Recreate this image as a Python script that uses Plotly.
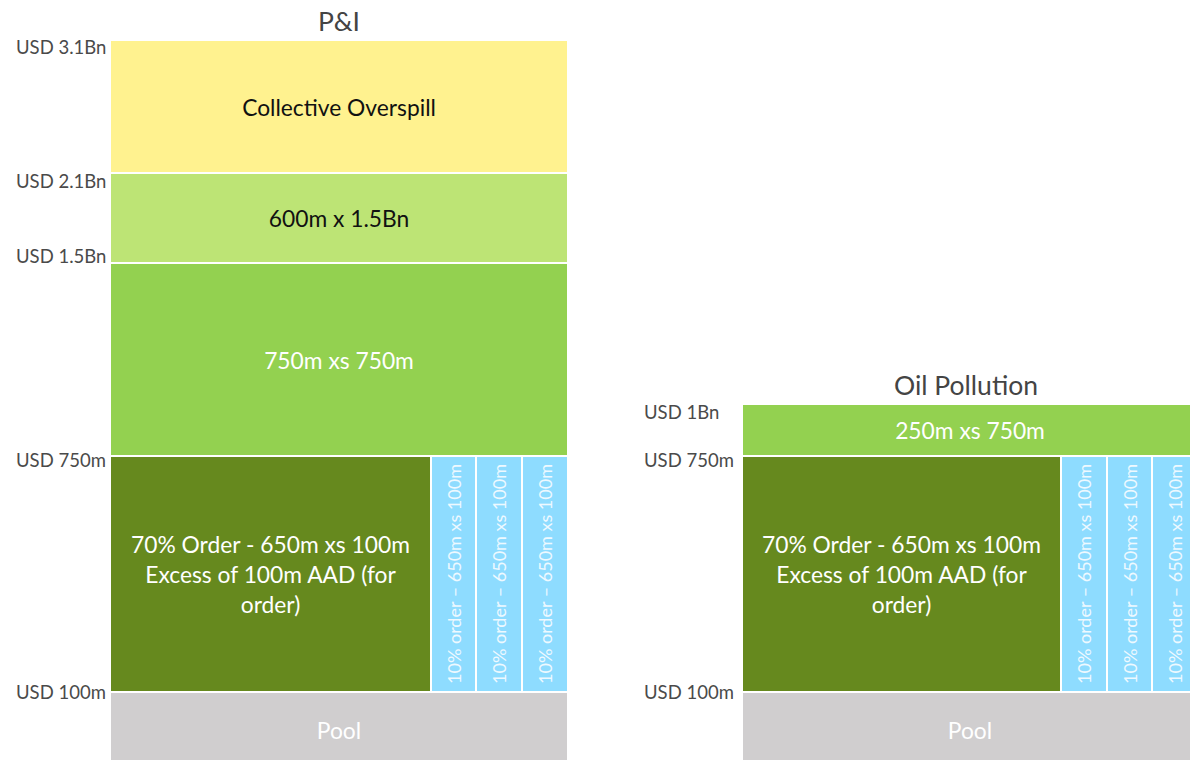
import plotly.graph_objects as go

# ---------------- data ----------------
# layer boundaries are in USD millions
pi_layers = ["Collective Overspill", "600m x 1.5Bn", "750m xs 750m", "Pool"]
pi_low = [2100, 1500, 750, 0]
pi_high = [3100, 2100, 1500, 100]

oil_layers = ["250m xs 750m", "Pool"]
oil_low = [750, 0]
oil_high = [1000, 100]

order_labels = ["70% Order - 650m xs 100m<br>Excess of 100m AAD (for<br>order)",
                "10% order – 650m xs 100m", "10% order – 650m xs 100m",
                "10% order – 650m xs 100m"]
order_shares = [0.7, 0.1, 0.1, 0.1]
order_low = 100
order_high = 750

pi_ticks = [3100, 2100, 1500, 750, 100]
pi_tick_text = ["USD 3.1Bn", "USD 2.1Bn", "USD 1.5Bn", "USD 750m", "USD 100m"]
oil_ticks = [1000, 750, 100]
oil_tick_text = ["USD 1Bn", "USD 750m", "USD 100m"]

# ---------------- layout / style ----------------
# non-linear display position of each boundary value (diagram units)
LEVEL = {0: -8, 100: 68, 750: 304, 1000: 356, 1500: 497, 2100: 587, 3100: 720}
def disp(v):
    return LEVEL[v]

FONT = "Lato, 'Open Sans', sans-serif"
COLORS = {
    "Collective Overspill": "#FFF28F",
    "600m x 1.5Bn": "#BDE475",
    "750m xs 750m": "#93D150",
    "250m xs 750m": "#93D150",
    "Pool": "#D0CECF",
    "order70": "#66891E",
    "order10": "#8EDCFF",
}
TEXTCOL = {
    "Collective Overspill": "#111111",
    "600m x 1.5Bn": "#111111",
    "750m xs 750m": "#FFFFFF",
    "250m xs 750m": "#FFFFFF",
    "Pool": "#FFFFFF",
}
LABEL_SHIFT = {"USD 3.1Bn": -7, "USD 2.1Bn": -8, "USD 1.5Bn": 7, "USD 750m": -4,
               "USD 100m": 0, "USD 1Bn": -8}
INNER_SIZE = 22.8
ORDER10_SIZE = 18
LABEL_SIZE = 18.5
TITLE_SIZE = 26.5

fig = go.Figure()

def add_panel(layers, lows, highs, xa, ya):
    for name, lo, hi in zip(layers, lows, highs):
        b = disp(lo)
        h = disp(hi) - b
        fig.add_trace(go.Bar(
            x=[0.5], y=[h], base=[b], width=[1.0],
            marker=dict(color=COLORS[name], line=dict(color="white", width=2)),
            text=[name], textposition="inside", insidetextanchor="middle",
            textangle=0, constraintext="none",
            textfont=dict(family=FONT, size=INNER_SIZE, color=TEXTCOL[name]),
            xaxis=xa, yaxis=ya, showlegend=False, hoverinfo="skip"))
    # order row
    b = disp(order_low)
    h = disp(order_high) - b
    centers = []
    acc = 0
    for s in order_shares:
        centers.append(acc + s / 2)
        acc += s
    fig.add_trace(go.Bar(
        x=[centers[0]], y=[h], base=[b], width=[order_shares[0]],
        marker=dict(color=COLORS["order70"], line=dict(color="white", width=2)),
        text=[order_labels[0]], textposition="inside", insidetextanchor="middle",
        textangle=0, constraintext="none",
        textfont=dict(family=FONT, size=INNER_SIZE, color="white"),
        xaxis=xa, yaxis=ya, showlegend=False, hoverinfo="skip"))
    fig.add_trace(go.Bar(
        x=centers[1:], y=[h] * 3, base=[b] * 3, width=order_shares[1:],
        marker=dict(color=COLORS["order10"], line=dict(color="white", width=2)),
        text=order_labels[1:], textposition="inside", insidetextanchor="middle",
        textangle=-90, constraintext="none",
        textfont=dict(family=FONT, size=ORDER10_SIZE, color="#EEF9FF"),
        xaxis=xa, yaxis=ya, showlegend=False, hoverinfo="skip"))

add_panel(pi_layers, pi_low, pi_high, "x", "y")
add_panel(oil_layers, oil_low, oil_high, "x2", "y2")

W, H = 1190, 760
ax_common = dict(showgrid=False, zeroline=False, showticklabels=False, showline=False, fixedrange=True)
fig.update_layout(
    width=W, height=H,
    margin=dict(l=0, r=0, t=0, b=0),
    paper_bgcolor="white", plot_bgcolor="white",
    barmode="overlay", bargap=0,
    xaxis=dict(domain=[110 / W, 568 / W], range=[0, 1], **ax_common),
    xaxis2=dict(domain=[742 / W, 1.0], range=[0, 448 / 456], **ax_common),
    yaxis=dict(domain=[0, 1], range=[0, 760], anchor="x", **ax_common),
    yaxis2=dict(domain=[0, 1], range=[0, 760], anchor="x2", **ax_common),
)

annotations = []
for val, txt in zip(pi_ticks, pi_tick_text):
    annotations.append(dict(x=14 / W, xref="paper", xanchor="left",
                            y=disp(val), yref="y", yanchor="middle",
                            yshift=LABEL_SHIFT[txt], text=txt, showarrow=False,
                            font=dict(family=FONT, size=LABEL_SIZE, color="#4a4a4a")))
for val, txt in zip(oil_ticks, oil_tick_text):
    annotations.append(dict(x=642 / W, xref="paper", xanchor="left",
                            y=disp(val), yref="y2", yanchor="middle",
                            yshift=LABEL_SHIFT[txt], text=txt, showarrow=False,
                            font=dict(family=FONT, size=LABEL_SIZE, color="#4a4a4a")))
annotations.append(dict(x=0.5, xref="x domain", y=disp(3100), yref="y", yanchor="bottom",
                        yshift=1, text="P&I", showarrow=False,
                        font=dict(family=FONT, size=TITLE_SIZE, color="#444444")))
annotations.append(dict(x=0.5, xref="x2 domain", y=disp(1000), yref="y2", yanchor="bottom",
                        yshift=1, text="Oil Pollution", showarrow=False,
                        font=dict(family=FONT, size=TITLE_SIZE, color="#444444")))
fig.update_layout(annotations=annotations)

fig.write_html("out.html", config={"displayModeBar": False},
               post_script="document.body.style.margin='0px';")
